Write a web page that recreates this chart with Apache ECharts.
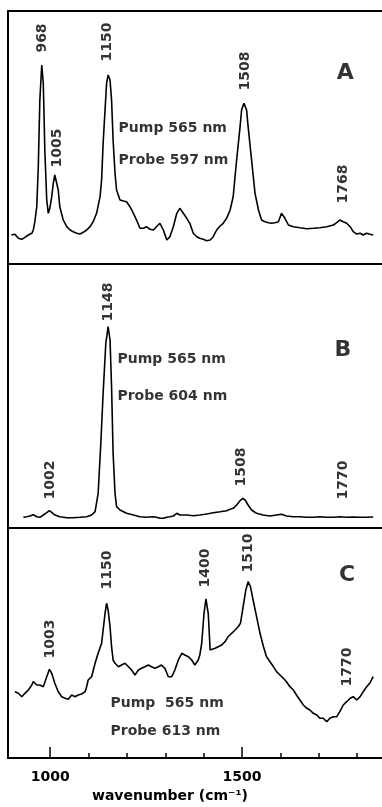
<!DOCTYPE html>
<html>
<head>
<meta charset="utf-8">
<script src="https://cdn.jsdelivr.net/npm/echarts@6/dist/echarts.min.js"></script>
<style>
html, body { margin: 0; padding: 0; background: #fff; }
#main { width: 382px; height: 807px; }
</style>
</head>
<body>
<div id="main"></div>
<script>
// spectrum A: wavenumber / intensity
var wnA = [899,908,917,926,934,943,952,956,960,965,969,973,978,982,986,991,995,999,1004,1008,
  1012,1017,1021,1025,1034,1043,1052,1060,1069,1078,1086,1095,1104,1112,1121,1130,1134,1138,1143,1147,
  1151,1156,1160,1164,1169,1173,1182,1191,1199,1208,1217,1225,1234,1243,1251,1260,1269,1277,1286,1295,
  1304,1308,1312,1321,1330,1338,1347,1356,1364,1373,1382,1390,1399,1408,1417,1425,1434,1443,1451,1460,
  1469,1477,1486,1495,1499,1505,1512,1516,1525,1534,1543,1551,1560,1569,1577,1586,1595,1603,1608,1612,
  1621,1634,1651,1669,1686,1703,1721,1738,1747,1755,1764,1773,1782,1790,1799,1808,1816,1825,1834,1842];
var intA = [29,29.7,25.7,24.7,26.7,29,30.7,34,42.3,57.3,97.3,164,199,180.7,114,64,50.7,55.7,67.3,80.7,
  89,87.3,74,57.3,44,37.3,34,32.3,30.7,30,31.7,34,37.3,42.3,50.7,67.3,84,120.7,154,180.7,
  189,184,164,124,90.7,74,64,63,62.3,57.3,50.7,44,35.7,35.7,37.3,34.7,34,37.3,40.7,34,
  24,22.3,27.3,37.3,50.7,55.7,50.7,45.7,40.7,30.7,27.3,25.7,24.7,23.3,24,27.3,34,38,40.7,45.7,
  54,67.3,104,137.3,154,160.7,154,137.3,104,70.7,54,44,42.3,41.3,40.7,41.3,42.3,50.7,50.7,45.7,
  39,37.3,36.3,35.3,35.7,36.3,37.3,39,41.3,44,42.3,40.7,37.3,32.3,30,30.7,29,30.7,29.7,29];

// spectrum B
var wnB = [930,939,947,956,965,973,982,991,998,1004,1012,1025,1043,1060,1078,1095,1108,1117,1125,1132,
  1138,1145,1151,1156,1160,1164,1169,1173,1182,1199,1217,1234,1251,1269,1277,1286,1295,1304,1312,1321,
  1325,1330,1338,1356,1373,1390,1408,1425,1443,1460,1469,1477,1486,1495,1502,1508,1516,1525,1538,1555,
  1573,1590,1603,1616,1634,1651,1669,1686,1703,1721,1738,1755,1773,1790,1808,1825,1842];
var intB = [10.7,11.3,12,13.3,11.3,10.7,13,15.3,17.3,15.7,13,11.3,10.3,10.3,10.7,11.3,13,16.3,34.7,84.7,
  134.7,184.7,201.3,188,141.3,74.7,34.7,21.3,18,14.7,13,11.3,10.7,11.3,10.7,9.7,9.7,10.7,11.3,12,
  14,14.7,13,13,12.3,13,14,15.3,16.3,17.3,18.7,19.7,23,27.3,29.7,28,23,18,14.7,13,
  12,13,13.7,12,11.3,11.3,10.7,10.7,11.3,10.7,10.7,11.3,10.7,11,10.7,10.7,11];

// spectrum C
var wnC = [908,917,926,934,943,952,956,960,965,973,982,991,998,1004,1012,1021,1030,1039,1047,1056,
  1065,1073,1082,1091,1095,1099,1108,1117,1125,1134,1138,1143,1147,1151,1156,1160,1164,1169,1178,1186,
  1195,1204,1212,1221,1230,1238,1247,1256,1264,1273,1282,1290,1295,1299,1308,1317,1325,1334,1343,1351,
  1360,1369,1377,1386,1390,1395,1401,1406,1412,1417,1421,1430,1438,1447,1456,1464,1473,1482,1490,1496,
  1503,1510,1516,1522,1529,1538,1547,1556,1564,1573,1582,1590,1599,1608,1616,1625,1634,1642,1651,1660,
  1669,1677,1686,1695,1703,1712,1721,1729,1738,1747,1755,1764,1773,1782,1790,1799,1808,1816,1825,1834,1842];
var intC = [66.3,64.7,61.3,64.7,68,73,76.3,78,73,73,71.3,81.3,88.7,84.7,74.7,66.3,61.3,59.7,58.7,63,
  61.3,63,64,66.3,71.3,78,81.3,94.7,104.7,114.7,128,144.7,154.7,148,131.3,111.3,98,94.7,91.3,93,
  94.7,91.3,88,83,88,89.7,91.3,93,91.3,89.7,91.3,93,94.7,89.7,81.3,81.3,88,98,104.7,103,
  101.3,98,93,98,103,114.7,144.7,159,144.7,108,108,109.7,111.3,113,116.3,121.3,124.7,128,131.3,134.7,
  151.3,168,176.3,171.3,158,141.3,124.7,111.3,101.3,96.3,91.3,86.3,83,79.7,76.3,71.3,68,63,58,53,
  49.7,48,44.7,43,39.7,39.7,36.3,39.7,41.3,41.3,46.3,53,56.3,59.7,61.3,58,61.3,66.3,71.3,75.3,81.3];

// peak labels and panel texts
var peaksA = ['968', '1005', '1150', '1508', '1768'];
var peaksB = ['1148', '1002', '1508', '1770'];
var peaksC = ['1003', '1150', '1400', '1510', '1770'];
var notesA = ['Pump 565 nm', 'Probe 597 nm'];
var notesB = ['Pump 565 nm', 'Probe 604 nm'];
var notesC = ['Pump  565 nm', 'Probe 613 nm'];
var panelNames = ['A', 'B', 'C'];
var majorTicks = [1000, 1500];
var minorTicks = [1100, 1200, 1300, 1400, 1600, 1700, 1800];

// where the texts sit, in axis units of each panel
var peakPosA = [[979, 226], [1018, 116], [1150, 222], [1508, 193], [1763, 80]];
var peakPosB = [[1151, 226], [1000, 48], [1499, 61], [1764, 48]];
var peakPosC = [[1000, 119], [1149, 188], [1404, 190], [1516, 205], [1774, 91]];
var notePos = [[[1177, 136], [1177, 104]], [[1174, 169], [1174, 132]], [[1156, 55], [1156, 27]]];
var letterPos = [[1769, 191], [1763, 178], [1774, 183]];

var FONT = 'DejaVu Sans';
var X_MIN = 890, X_MAX = 1865;

function zip(xs, ys) {
  var out = [];
  for (var i = 0; i < xs.length; i++) out.push([xs[i], ys[i]]);
  return out;
}

// xAxisIndex used by each panel: A -> 0, B -> 2, C -> 3
var panelX = [0, 2, 3];

function lineSeries(p, xs, ys) {
  return {
    type: 'line', xAxisIndex: panelX[p], yAxisIndex: p,
    data: zip(xs, ys), showSymbol: false, silent: true,
    lineStyle: { color: '#000', width: 1.6 }
  };
}

function textSeries(p, names, pos, label) {
  var data = [];
  for (var i = 0; i < names.length; i++) data.push({ name: names[i], value: pos[i] });
  return {
    type: 'scatter', xAxisIndex: panelX[p], yAxisIndex: p, silent: true,
    symbolSize: 1, itemStyle: { color: 'rgba(0,0,0,0)' },
    data: data,
    label: Object.assign({
      show: true, formatter: '{b}', color: '#000', textBorderWidth: 0,
      fontFamily: FONT, fontWeight: 'bold'
    }, label)
  };
}

var rotated = { position: 'inside', rotate: 90, fontSize: 14 };
var noteLabel = { position: 'right', distance: 0, fontSize: 14 };
var letterLabel = { position: 'inside', fontSize: 22 };

var frame = { show: true, onZero: false, lineStyle: { color: '#000', width: 2 } };

function xAx(grid, pos, lineOn) {
  return {
    type: 'value', gridIndex: grid, position: pos, min: X_MIN, max: X_MAX,
    axisLine: lineOn ? frame : { show: false }, splitLine: { show: false },
    axisTick: { show: false }, axisLabel: { show: false }
  };
}

function yAx(grid, max) {
  return {
    type: 'value', gridIndex: grid, position: 'left', min: 0, max: max,
    axisLine: frame, splitLine: { show: false },
    axisTick: { show: false }, axisLabel: { show: false }
  };
}

var xMinor = xAx(2, 'bottom', true);
xMinor.axisTick = { show: true, inside: true, length: 5, customValues: minorTicks, lineStyle: { color: '#000', width: 1.5 } };

var xMajor = xAx(2, 'bottom', false);
xMajor.axisTick = { show: true, inside: true, length: 11, customValues: majorTicks, lineStyle: { color: '#000', width: 1.5 } };
xMajor.axisLabel = {
  show: true, customValues: majorTicks, margin: 12, color: '#000',
  fontSize: 14, fontWeight: 'bold', fontFamily: FONT,
  formatter: function (v) { return String(v); }
};
xMajor.name = 'wavenumber (cm\u207b\u00b9)';
xMajor.nameLocation = 'middle';
xMajor.nameGap = 31;
xMajor.nameTextStyle = { color: '#000', fontSize: 14, fontWeight: 'bold', fontFamily: FONT, padding: [0, 50, 0, 0] };

var option = {
  animation: false,
  backgroundColor: '#fff',
  textStyle: { color: '#000', fontFamily: FONT },
  grid: [
    { left: 8, right: 0, top: 11, height: 253 },
    { left: 8, right: 0, top: 264, height: 264 },
    { left: 8, right: 0, top: 528, height: 230 }
  ],
  xAxis: [xAx(0, 'bottom', true), xAx(0, 'top', true), xAx(1, 'bottom', true), xMinor, xMajor],
  yAxis: [yAx(0, 253), yAx(1, 264), yAx(2, 230)],
  series: [
    lineSeries(0, wnA, intA),
    lineSeries(1, wnB, intB),
    lineSeries(2, wnC, intC),
    textSeries(0, peaksA, peakPosA, rotated),
    textSeries(1, peaksB, peakPosB, rotated),
    textSeries(2, peaksC, peakPosC, rotated),
    textSeries(0, notesA, notePos[0], noteLabel),
    textSeries(1, notesB, notePos[1], noteLabel),
    textSeries(2, notesC, notePos[2], noteLabel),
    textSeries(0, [panelNames[0]], [letterPos[0]], letterLabel),
    textSeries(1, [panelNames[1]], [letterPos[1]], letterLabel),
    textSeries(2, [panelNames[2]], [letterPos[2]], letterLabel)
  ]
};

var myChart = echarts.init(document.getElementById('main'));
myChart.setOption(option);
</script>
</body>
</html>
